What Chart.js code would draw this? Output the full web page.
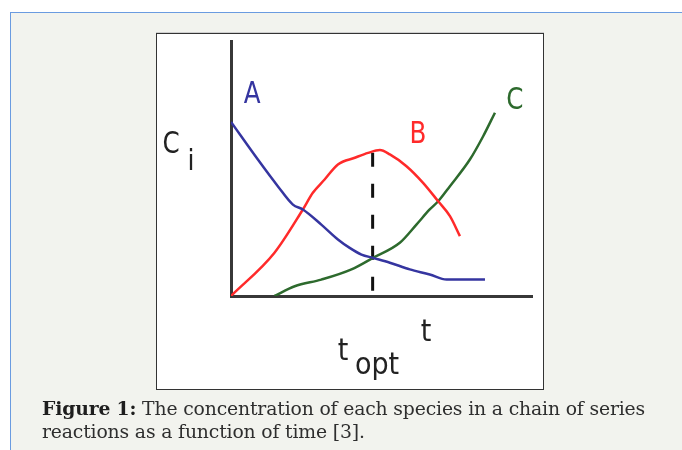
<!DOCTYPE html>
<html>
<head>
<meta charset="utf-8">
<script src="https://cdn.jsdelivr.net/npm/chart.js@4/dist/chart.umd.min.js"></script>
<style>
  html, body { margin: 0; padding: 0; width: 682px; height: 450px; overflow: hidden; background: #ffffff; }
  #panel { position: absolute; left: 10px; top: 12px; width: 700px; height: 450px; background: #f2f3ee;
           border-top: 1px solid #6a9be0; border-left: 1px solid #6a9be0; }
  #box { position: absolute; left: 156px; top: 33px; width: 386px; height: 355px; background: #ffffff;
         border: 1px solid #333333; box-shadow: 0 -1px 0 #cfcfcf; }
  #cv { position: absolute; left: 0; top: 0; }
  #caption { position: absolute; left: 42px; top: 397px; width: 640px; font-family: "DejaVu Serif", serif;
             font-size: 18.8px; line-height: 23px; color: #2e2e2e; letter-spacing: -0.15px; }
  #caption b { color: #1e1e1e; }
</style>
</head>
<body>
<div id="panel"></div>
<div id="box"></div>
<canvas id="cv" width="682" height="450"></canvas>
<div id="caption"><b>Figure 1:</b> The concentration of each species in a chain of series<br>reactions as a function of time [3].</div>
<script>
// Time values (arbitrary units) and concentrations
const tA = [0, 0.89, 1.55, 2.05, 2.38, 2.99, 3.54, 3.93, 4.32, 4.70, 5.26, 5.92, 6.58, 7.14, 8.41];
const cA = [6.8, 5.33, 4.29, 3.57, 3.38, 2.79, 2.21, 1.88, 1.62, 1.49, 1.30, 1.04, 0.84, 0.64, 0.64];

const tB = [0, 1.44, 2.38, 2.71, 3.10, 3.54, 4.10, 4.54, 4.93, 5.26, 5.81, 6.36, 6.86, 7.25, 7.58];
const cB = [0, 1.69, 3.38, 4.03, 4.55, 5.14, 5.40, 5.59, 5.70, 5.53, 5.07, 4.42, 3.70, 3.12, 2.34];

const tC = [1.44, 2.11, 2.99, 3.99, 4.70, 5.59, 6.14, 6.58, 6.86, 7.25, 7.91, 8.35, 8.74];
const cC = [0, 0.38, 0.64, 1.04, 1.49, 2.08, 2.79, 3.38, 3.70, 4.29, 5.33, 6.24, 7.16];

const tOpt = [4.69, 4.69];
const cOpt = [5.6, 0];

const seriesNames = ["A", "B", "C"];

function pts(xs, ys) { return xs.map((x, i) => ({ x: x, y: ys[i] })); }

function drawNarrow(ctx, text, px, py, sx) {
  ctx.save();
  ctx.translate(px, py);
  ctx.scale(sx, 1);
  ctx.fillText(text, 0, 0);
  ctx.restore();
}

const labelsPlugin = {
  id: 'labelsPlugin',
  beforeDatasetsDraw(chart) {
    const { ctx, chartArea: a } = chart;
    ctx.save();
    ctx.strokeStyle = '#383838';
    ctx.lineWidth = 3;
    ctx.lineCap = 'butt';
    ctx.beginPath();
    ctx.moveTo(a.left + 0.5, a.top);
    ctx.lineTo(a.left + 0.5, a.bottom + 1.5);
    ctx.moveTo(a.left - 1, a.bottom + 0.5);
    ctx.lineTo(a.right, a.bottom + 0.5);
    ctx.stroke();
    ctx.restore();
  },
  afterDatasetsDraw(chart) {
    const { ctx, scales: { x, y } } = chart;
    ctx.save();
    ctx.textAlign = 'center';
    ctx.textBaseline = 'middle';
    ctx.font = '30px "DejaVu Sans", sans-serif';
    const lab = [
      [seriesNames[0], 0.70, 7.85, '#3535a0'],
      [seriesNames[1], 6.19, 6.29, '#ff2a2a'],
      [seriesNames[2], 9.40, 7.62, '#2d6a2d']
    ];
    lab.forEach(([t, dx, dy, c]) => {
      ctx.fillStyle = c;
      drawNarrow(ctx, t, x.getPixelForValue(dx), y.getPixelForValue(dy), 0.82);
    });
    ctx.fillStyle = '#222222';
    drawNarrow(ctx, 'C', 171, 145, 0.82);
    ctx.font = '28px "DejaVu Sans", sans-serif';
    drawNarrow(ctx, 'i', 191, 163, 0.9);
    ctx.font = '30px "DejaVu Sans", sans-serif';
    drawNarrow(ctx, 't', 426, 333, 0.9);
    drawNarrow(ctx, 't', 343, 352, 0.9);
    drawNarrow(ctx, 'opt', 377, 366, 0.9);
    ctx.restore();
  }
};

new Chart(document.getElementById('cv'), {
  type: 'line',
  data: {
    datasets: [
      { label: 'A', data: pts(tA, cA), borderColor: '#3535a0', borderWidth: 2.5, pointRadius: 0, cubicInterpolationMode: 'monotone' },
      { label: 'B', data: pts(tB, cB), borderColor: '#ff2a2a', borderWidth: 2.5, pointRadius: 0, cubicInterpolationMode: 'monotone' },
      { label: 'C', data: pts(tC, cC), borderColor: '#2d6a2d', borderWidth: 2.5, pointRadius: 0, cubicInterpolationMode: 'monotone' },
      { label: 't_opt', data: pts(tOpt, cOpt), borderColor: '#111111', borderWidth: 3, borderDash: [14, 17], pointRadius: 0, tension: 0 }
    ]
  },
  options: {
    responsive: false,
    animation: false,
    layout: { padding: { left: 231, top: 40, right: 149, bottom: 154 } },
    plugins: { legend: { display: false }, tooltip: { enabled: false } },
    scales: {
      x: { type: 'linear', min: 0, max: 10, display: false },
      y: { type: 'linear', min: 0, max: 10, display: false }
    }
  },
  plugins: [labelsPlugin]
});
</script>
</body>
</html>
